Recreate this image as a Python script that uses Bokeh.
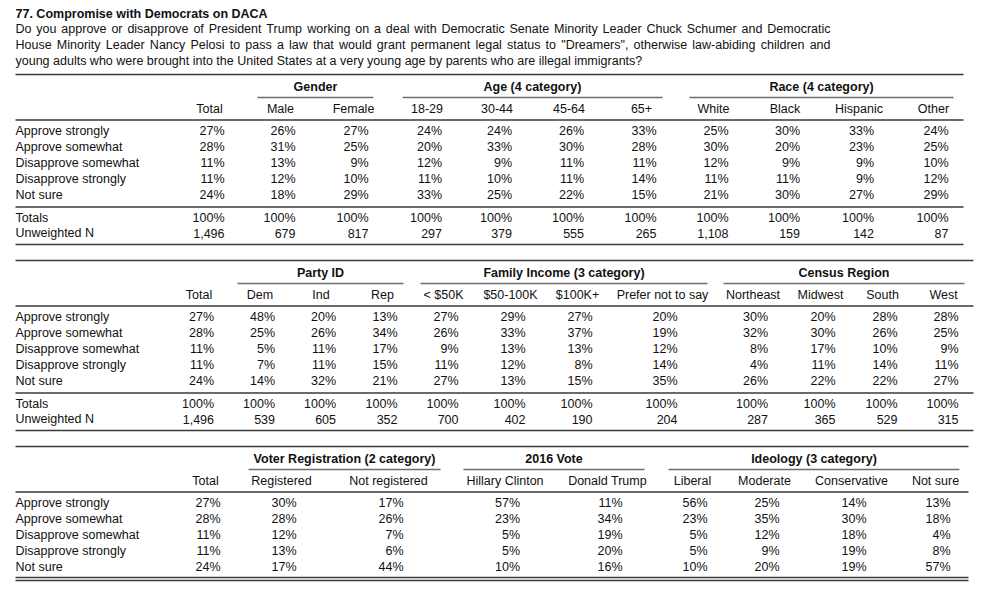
from bokeh.plotting import figure
from bokeh.models import Range1d, ColumnDataSource
from bokeh.core.properties import value
from bokeh.embed import file_html
from bokeh.resources import INLINE

# ---------------- data ----------------
TITLE = "77. Compromise with Democrats on DACA"
QUESTION = [
    "Do you approve or disapprove of President Trump working on a deal with Democratic Senate Minority Leader Chuck Schumer and Democratic",
    "House Minority Leader Nancy Pelosi to pass a law that would grant permanent legal status to \"Dreamers\", otherwise law-abiding children and",
    "young adults who were brought into the United States at a very young age by parents who are illegal immigrants?",
]
RESPONSES = ["Approve strongly", "Approve somewhat", "Disapprove somewhat", "Disapprove strongly", "Not sure"]

total = [27, 28, 11, 11, 24]
male = [26, 31, 13, 12, 18]
female = [27, 25, 9, 10, 29]
age_18_29 = [24, 20, 12, 11, 33]
age_30_44 = [24, 33, 9, 10, 25]
age_45_64 = [26, 30, 11, 11, 22]
age_65 = [33, 28, 11, 14, 15]
white = [25, 30, 12, 11, 21]
black = [30, 20, 9, 11, 30]
hispanic = [33, 23, 9, 9, 27]
other = [24, 25, 10, 12, 29]

dem = [48, 25, 5, 7, 14]
ind = [20, 26, 11, 11, 32]
rep = [13, 34, 17, 15, 21]
inc_lt50 = [27, 26, 9, 11, 27]
inc_50_100 = [29, 33, 13, 12, 13]
inc_100 = [27, 37, 13, 8, 15]
inc_prefer = [20, 19, 12, 14, 35]
northeast = [30, 32, 8, 4, 26]
midwest = [20, 30, 17, 11, 22]
south = [28, 26, 10, 14, 22]
west = [28, 25, 9, 11, 27]

registered = [30, 28, 12, 13, 17]
not_registered = [17, 26, 7, 6, 44]
clinton = [57, 23, 5, 5, 10]
trump = [11, 34, 19, 20, 16]
liberal = [56, 23, 5, 5, 10]
moderate = [25, 35, 12, 9, 20]
conservative = [14, 30, 18, 19, 19]
ideo_not_sure = [13, 18, 4, 8, 57]

s1_groups = ["Gender", "Age (4 category)", "Race (4 category)"]
s1_cols = ["Total", "Male", "Female", "18-29", "30-44", "45-64", "65+", "White", "Black", "Hispanic", "Other"]
s1_vals = [total, male, female, age_18_29, age_30_44, age_45_64, age_65, white, black, hispanic, other]
s1_n = ["1,496", "679", "817", "297", "379", "555", "265", "1,108", "159", "142", "87"]

s2_groups = ["Party ID", "Family Income (3 category)", "Census Region"]
s2_cols = ["Total", "Dem", "Ind", "Rep", "< $50K", "$50-100K", "$100K+", "Prefer not to say",
           "Northeast", "Midwest", "South", "West"]
s2_vals = [total, dem, ind, rep, inc_lt50, inc_50_100, inc_100, inc_prefer, northeast, midwest, south, west]
s2_n = ["1,496", "539", "605", "352", "700", "402", "190", "204", "287", "365", "529", "315"]

s3_groups = ["Voter Registration (2 category)", "2016 Vote", "Ideology (3 category)"]
s3_cols = ["Total", "Registered", "Not registered", "Hillary Clinton", "Donald Trump",
           "Liberal", "Moderate", "Conservative", "Not sure"]
s3_vals = [total, registered, not_registered, clinton, trump, liberal, moderate, conservative, ideo_not_sure]
s3_n = None

# ---------------- layout (pixel positions) ----------------
FONT = value("Liberation Sans")
FS_PX = 12.5
FS = f"{FS_PX}px"
TXT = "#111111"
RULE = "#3a3a3a"
ULINE = "#6e6e6e"
LEFT = 15
JUSTIFY_RIGHT = 830
VAL_HALF = 15

s1_x = [209, 280, 353, 426.5, 496.5, 568.5, 641, 713, 784.5, 858.5, 933]
s2_x = [198.5, 259.5, 320.5, 382, 443, 510, 577, 662, 752.5, 820, 882, 943]
s3_x = [205, 281, 388, 504.5, 607, 692, 764, 851, 935]
s1_spans = [(257, 373), (402, 662), (689, 953)]
s2_spans = [(237, 403), (420, 707), (723, 964)]
s3_spans = [(248, 440), (463, 644), (668, 959)]
tops = [74, 260, 446]
rights = [963, 973, 968]

# Arial / Liberation Sans advance widths (per 1000 em) used to justify the question text
_W = {" ": 278, '"': 355, "(": 333, ")": 333, ",": 278, "-": 333, ".": 278, "?": 556}
_W.update({c: 556 for c in "0123456789$"})
_W.update(dict(zip("ABCDEFGHIJKLMNOPQRSTUVWXYZ",
                   [667, 667, 722, 722, 667, 611, 778, 722, 278, 500, 667, 556, 833,
                    722, 778, 667, 778, 722, 667, 611, 722, 667, 944, 667, 667, 611])))
_W.update(dict(zip("abcdefghijklmnopqrstuvwxyz",
                   [556, 556, 500, 556, 556, 278, 556, 556, 222, 222, 500, 222, 833,
                    556, 556, 556, 556, 333, 500, 278, 556, 500, 722, 500, 500, 500])))


def text_width(s):
    return sum(_W.get(ch, 556) for ch in s) * FS_PX / 1000.0


W, H = 981, 586
p = figure(width=W, height=H, output_backend="svg", toolbar_location=None,
           x_range=Range1d(0, W), y_range=Range1d(H, 0),
           x_axis_type=None, y_axis_type=None, min_border=0,
           background_fill_color="white", border_fill_color="white")
p.outline_line_color = None
p.grid.visible = False

texts = dict(x=[], y=[], t=[], align=[], style=[])


def add(x, y, t, align="left", style="normal"):
    texts["x"].append(x)
    texts["y"].append(y)
    texts["t"].append(t)
    texts["align"].append(align)
    texts["style"].append(style)


segs = dict(x0=[], y0=[], x1=[], y1=[], c=[], w=[])


def seg(x0, x1, y, c=RULE, w=1.3):
    segs["x0"].append(x0)
    segs["x1"].append(x1)
    segs["y0"].append(y)
    segs["y1"].append(y)
    segs["c"].append(c)
    segs["w"].append(w)


add(LEFT, 13, TITLE, style="bold")
for i, line in enumerate(QUESTION):
    y = 28 + 16 * i
    if i < len(QUESTION) - 1:
        words = line.split(" ")
        widths = [text_width(wd) for wd in words]
        gap = (JUSTIFY_RIGHT - LEFT - sum(widths)) / (len(words) - 1)
        x = LEFT
        for wd, ww in zip(words, widths):
            add(x, y, wd)
            x += ww + gap
    else:
        add(LEFT, y, line)

sections = [
    (s1_groups, s1_cols, s1_vals, s1_n, s1_x, s1_spans),
    (s2_groups, s2_cols, s2_vals, s2_n, s2_x, s2_spans),
    (s3_groups, s3_cols, s3_vals, s3_n, s3_x, s3_spans),
]

for si, (groups, cols, vals, ns, xs, spans) in enumerate(sections):
    top = tops[si]
    right = rights[si]
    seg(LEFT, right, top, w=1.5)
    for g, (a, b) in zip(groups, spans):
        add((a + b) / 2, top + 12, g, align="center", style="bold")
        seg(a, b, top + 23, c=ULINE, w=1.6)
    for c, x in zip(cols, xs):
        add(x, top + 34, c, align="center")
    seg(LEFT, right, top + 45.5)
    for r, lab in enumerate(RESPONSES):
        y = top + 56.5 + 16 * r
        add(LEFT, y, lab)
        for v, x in zip(vals, xs):
            add(x + VAL_HALF, y, f"{v[r]}%", align="right")
    if ns is not None:
        seg(LEFT, right, top + 132.5)
        add(LEFT, top + 143.5, "Totals")
        add(LEFT, top + 158.5, "Unweighted N")
        for n, x in zip(ns, xs):
            add(x + VAL_HALF, top + 143.5, "100%", align="right")
            add(x + VAL_HALF, top + 158.5, n, align="right")
        seg(LEFT, right, top + 170)
    else:
        seg(LEFT, right, top + 131)
        seg(LEFT, right, top + 134)

p.segment(x0="x0", y0="y0", x1="x1", y1="y1", line_color="c", line_width="w",
          source=ColumnDataSource(segs))

src = ColumnDataSource(texts)
p.text(x="x", y="y", text="t", text_align="align", text_font_style="style",
       text_baseline="middle", text_font=FONT, text_font_size=FS, text_color=TXT,
       source=src)

open("out.html", "w").write(file_html(p, INLINE))
